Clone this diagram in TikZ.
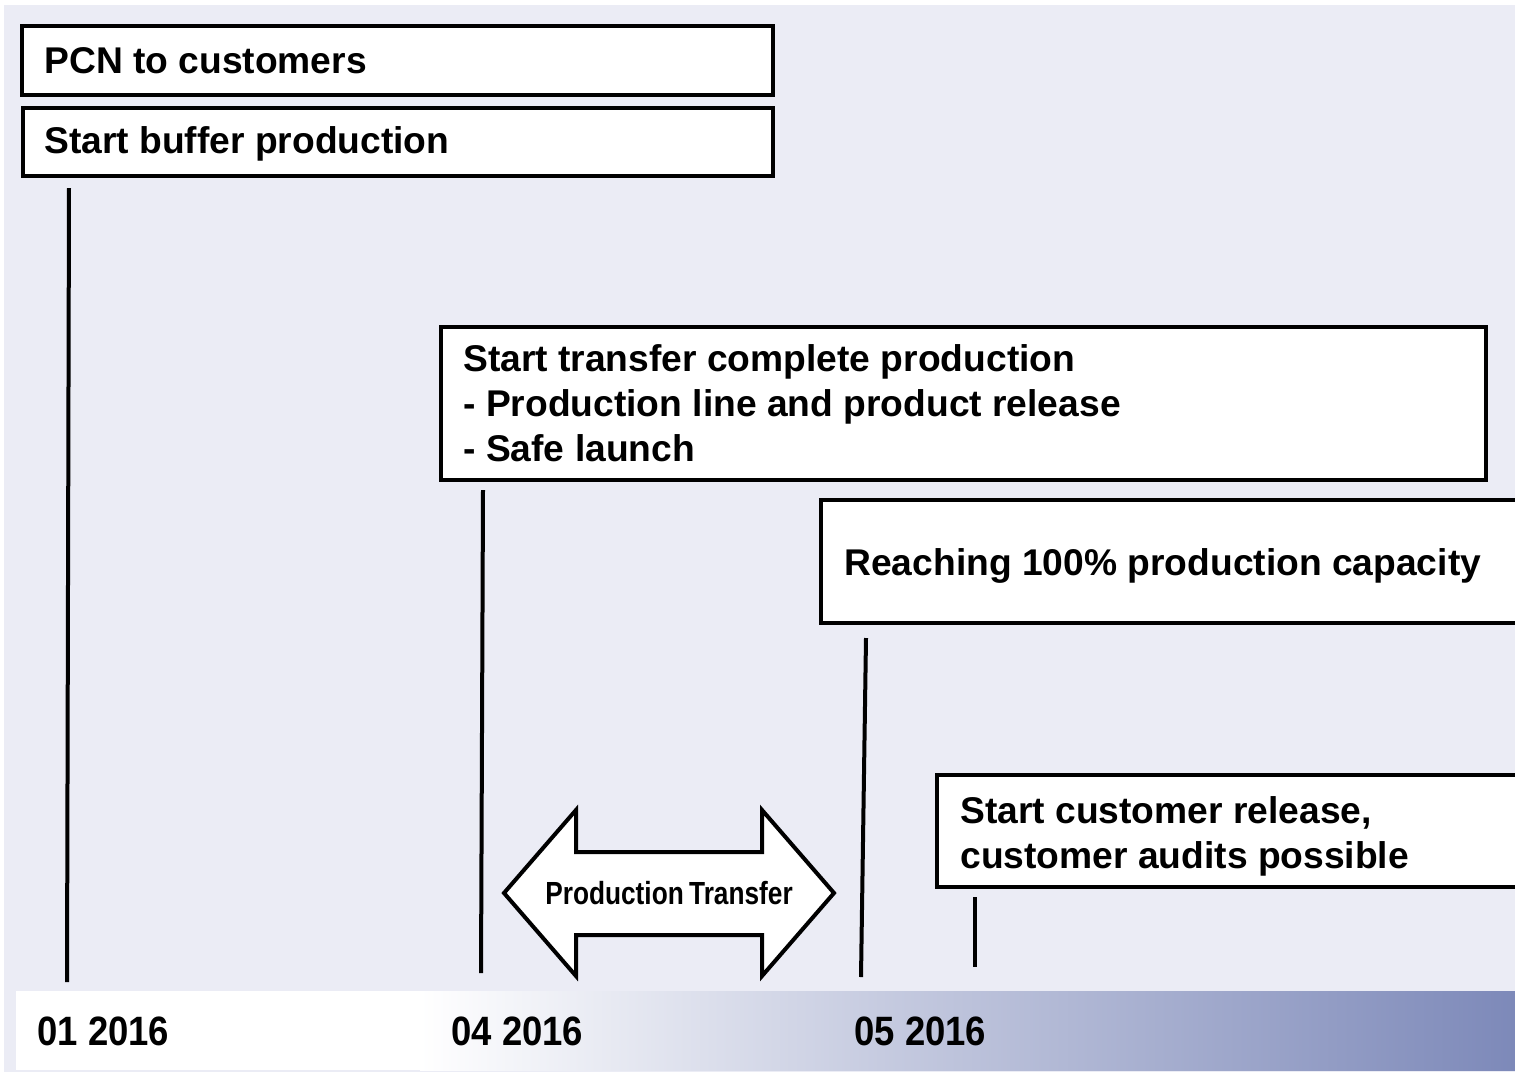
\documentclass[tikz,border=0pt]{standalone}
\usepackage{fontspec}
\setmainfont{Liberation Sans}
\newfontfamily\narrowfont[FakeStretch=0.82]{Liberation Sans}
\newfontfamily\datefont[FakeStretch=0.89]{Liberation Sans}
\definecolor{bgc}{HTML}{EBECF5}
\definecolor{barend}{HTML}{7D89B9}
\definecolor{barmid}{HTML}{C6CBE0}
\begin{document}
\begin{tikzpicture}[x=0.5pt,y=-0.5pt,
  evbox/.style={draw=black,line width=2pt,fill=white},
  evtext/.style={anchor=base west,font=\fontsize{18.6}{22.5}\selectfont\bfseries,align=left,inner sep=0pt},
  tick/.style={line width=2pt},
  datelbl/.style={anchor=base west,font=\datefont\fontsize{20.5}{22}\selectfont\bfseries,inner sep=0pt}]
\useasboundingbox (0,0) rectangle (1515,1072);
\fill[white] (0,0) rectangle (1515,1072);
\fill[bgc] (4,5) rectangle (1515,1072);
% bottom bar gradient
\fill[white] (16,991) rectangle (421,1070);
\shade[left color=white,right color=barmid] (420,991) rectangle (881,1070);
\shade[left color=barmid,right color=barend] (880,991) rectangle (1515,1070);
% boxes
\draw[evbox] (22,26) rectangle (773,95);
\node[evtext] (pcn) at (44,73) {PCN to customers};
\draw[evbox] (23,108) rectangle (773,176);
\node[evtext] (buf) at (44,153) {Start buffer production};
\draw[evbox] (441,327) rectangle (1486,480);
\node[evtext] (trans) at (463,461) {Start transfer complete production\\- Production line and product release\\- Safe launch};
\draw[evbox] (821,500) rectangle (1530,623);
\node[evtext] (reach) at (844,575) {Reaching 100\% production capacity};
\draw[evbox] (937,775) rectangle (1530,887);
\node[evtext] (cust) at (960,868) {Start customer release,\\customer audits possible};
% ticks
\coordinate (t1a) at (69,188); \coordinate (t1b) at (67,982);
\coordinate (t2a) at (483,490); \coordinate (t2b) at (481,973);
\coordinate (t3a) at (866,638); \coordinate (t3b) at (861,977);
\coordinate (t4a) at (975,897); \coordinate (t4b) at (975,967);
\draw[tick] (t1a) -- (t1b);
\draw[tick] (t2a) -- (t2b);
\draw[tick] (t3a) -- (t3b);
\draw[tick] (t4a) -- (t4b);
% double arrow
\draw[line width=2pt,fill=white,line join=miter]
  (504,893) -- (576,810) -- (576,852) -- (762,852) -- (762,810) -- (834,893)
  -- (762,976) -- (762,935) -- (576,935) -- (576,976) -- cycle;
\node[font=\narrowfont\fontsize{16}{18}\selectfont\bfseries,inner sep=0pt] (pt) at (669,893) {Production\,Transfer};
% dates
\node[datelbl] (d1) at (37,1045) {01 2016};
\node[datelbl] (d2) at (451,1045) {04 2016};
\node[datelbl] (d3) at (854,1045) {05 2016};
\end{tikzpicture}
\end{document}
